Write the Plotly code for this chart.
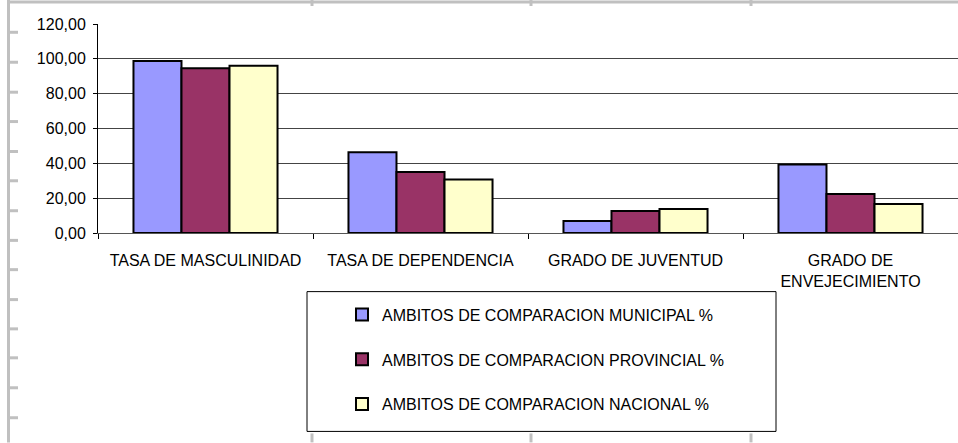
import plotly.graph_objects as go

categories = ["TASA DE MASCULINIDAD", "TASA DE DEPENDENCIA", "GRADO DE JUVENTUD", "GRADO DE<br>ENVEJECIMIENTO"]
municipal = [98.8, 46.4, 6.9, 39.3]
provincial = [94.6, 35.0, 12.6, 22.4]
nacional = [96.1, 30.7, 13.8, 16.6]
series_names = ["AMBITOS DE COMPARACION MUNICIPAL %",
                "AMBITOS DE COMPARACION PROVINCIAL %",
                "AMBITOS DE COMPARACION NACIONAL %"]
colors = ["#9999FF", "#993366", "#FFFFCC"]
y_ticks = [0, 20, 40, 60, 80, 100, 120]

W, H = 958, 443
L, R, T, B = 98, 958, 24, 233.3
FONT = "Liberation Sans, Arial, sans-serif"

def px2x(px):
    return (px - L) / (R - L)

def py2y(py):
    return (B - py) / (B - T)

fig = go.Figure()
for i, (name, vals, col) in enumerate(zip(series_names, [municipal, provincial, nacional], colors)):
    fig.add_trace(go.Bar(
        x=categories, y=vals, name=name, legendgroup=f"g{i}",
        marker=dict(color=col, line=dict(color="black", width=2)),
    ))

shapes = []
# legend frame
shapes.append(dict(type="rect", xref="paper", yref="paper",
                   x0=px2x(307), x1=px2x(776), y0=py2y(292), y1=py2y(432),
                   line=dict(color="black", width=1), fillcolor="rgba(0,0,0,0)", layer="below"))
# spreadsheet cell artifacts
gray = "#c0c0c0"
shapes.append(dict(type="line", xref="paper", yref="paper",
                   x0=px2x(8), x1=px2x(958), y0=py2y(2), y1=py2y(2), line=dict(color=gray, width=3)))
shapes.append(dict(type="line", xref="paper", yref="paper",
                   x0=px2x(8.5), x1=px2x(8.5), y0=py2y(0), y1=py2y(443), line=dict(color=gray, width=3)))
for yy in [32.3, 62.3, 92.3, 121.7, 151.7, 181, 211, 240.7, 270, 300, 329.3, 358.3, 388.3, 418.3]:
    shapes.append(dict(type="line", xref="paper", yref="paper",
                       x0=px2x(8), x1=px2x(18), y0=py2y(yy), y1=py2y(yy), line=dict(color=gray, width=3)))
for xx in [312, 531, 751]:
    shapes.append(dict(type="line", xref="paper", yref="paper",
                       x0=px2x(xx), x1=px2x(xx), y0=py2y(0), y1=py2y(6), line=dict(color=gray, width=3)))
    shapes.append(dict(type="line", xref="paper", yref="paper",
                       x0=px2x(xx), x1=px2x(xx), y0=py2y(434), y1=py2y(443), line=dict(color=gray, width=3)))

fig.update_layout(
    width=W, height=H,
    margin=dict(l=L, r=W - R, t=T, b=H - B, autoexpand=False),
    paper_bgcolor="white", plot_bgcolor="white",
    barmode="group", bargap=0.33, bargroupgap=0,
    separators=",.",
    font=dict(family=FONT, size=16, color="black"),
    showlegend=True,
    legend=dict(x=px2x(342), y=py2y(298), xanchor="left", yanchor="top",
                bgcolor="rgba(0,0,0,0)", borderwidth=0, tracegroupgap=21,
                font=dict(family=FONT, size=16, color="black"), traceorder="grouped"),
    shapes=shapes,
)
fig.update_xaxes(
    type="category", showline=True, linecolor="#555555", linewidth=1,
    ticks="outside", tickson="boundaries", ticklen=5, tickcolor="black",
    showgrid=False, tickangle=0, ticklabelstandoff=13,
    tickfont=dict(family=FONT, size=16, color="black"),
)
fig.update_yaxes(
    range=[0, 120], tickvals=y_ticks, tickformat=".2f",
    showline=True, linecolor="black", linewidth=1,
    ticks="outside", ticklen=4, tickcolor="black",
    showgrid=True, gridcolor="#444444", gridwidth=1, zeroline=False,
    ticklabelstandoff=4,
    tickfont=dict(family=FONT, size=16, color="black"),
)
fig.write_html("out.html", config={"displayModeBar": False},
               post_script="document.body.style.margin='0px';")
